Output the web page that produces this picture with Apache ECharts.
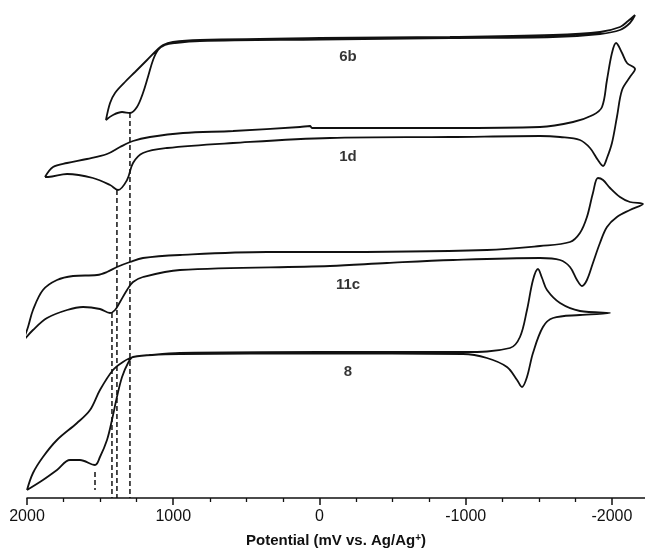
<!DOCTYPE html>
<html>
<head>
<meta charset="utf-8">
<title>Cyclic voltammograms</title>
<script src="https://cdn.jsdelivr.net/npm/echarts@6/dist/echarts.min.js"></script>
<style>
  html, body { margin: 0; padding: 0; background: #fff; }
  #chart { width: 645px; height: 550px; }
</style>
</head>
<body>
<div id="chart"></div>
<script>
// 循环伏安曲线：每条曲线为闭合回路 [电位 mV, 偏移电流 a.u.]

const curveNames = ['6b', '1d', '11c', '8'];

const cv6b = [
  [-2158, 48.3], [-2110, 47.7], [-2055, 47.1], [-1918, 46.6], [-1597, 46.3],
  [-892, 46.1], [-4, 46.0], [817, 45.8], [1002, 45.6], [1070, 45.3],
  [1111, 44.8], [1179, 43.8], [1261, 42.6], [1330, 41.6], [1398, 40.5],
  [1432, 39.5], [1460, 37.8], [1412, 38.3], [1350, 38.6], [1296, 38.5],
  [1248, 39.1], [1207, 40.5], [1173, 42.1], [1138, 43.8], [1104, 44.8],
  [1056, 45.3], [988, 45.5], [817, 45.7], [-4, 45.85], [-892, 46.0],
  [-1597, 46.1], [-1918, 46.4], [-2055, 46.8], [-2123, 47.5], [-2158, 48.3]
];

const cv1d = [
  [1877, 32.1], [1822, 33.1], [1726, 33.5], [1590, 33.9], [1453, 34.4],
  [1364, 35.1], [1275, 35.7], [1159, 36.1], [933, 36.5], [591, 36.7],
  [133, 37.1], [65, 37.2], [51, 37.0], [-4, 37.0], [-892, 37.0],
  [-1508, 37.1], [-1734, 37.6], [-1870, 38.3], [-1932, 39.1], [-1966, 41.8],
  [-2000, 44.5], [-2028, 45.5], [-2069, 44.5], [-2103, 43.5], [-2158, 42.9],
  [-2123, 42.1], [-2069, 40.8], [-2034, 38.1], [-2000, 35.5], [-1966, 34.0],
  [-1939, 33.2], [-1904, 33.8], [-1850, 35.0], [-1781, 35.8], [-1645, 36.1],
  [-1508, 36.2], [-892, 36.1], [-72, 36.0], [591, 35.5], [1043, 35.0],
  [1207, 34.5], [1275, 33.5], [1316, 31.8], [1378, 30.8], [1432, 31.3],
  [1549, 32.0], [1726, 32.4], [1856, 32.1], [1877, 32.1]
];

const cv11c = [
  [2027, 15.7], [1993, 17.1], [1959, 18.8], [1891, 20.8], [1795, 21.8],
  [1685, 22.2], [1521, 22.3], [1453, 22.6], [1385, 23.1], [1296, 23.6],
  [1207, 24.0], [954, 24.3], [359, 24.6], [-4, 24.6], [-1145, 24.8],
  [-1508, 25.2], [-1713, 25.6], [-1781, 26.5], [-1829, 28.1], [-1870, 30.5],
  [-1904, 32.0], [-1939, 31.8], [-1987, 31.0], [-2055, 30.1], [-2123, 29.6],
  [-2212, 29.4], [-2123, 28.8], [-2034, 28.1], [-1966, 27.1], [-1918, 25.5],
  [-1870, 23.5], [-1829, 21.8], [-1795, 21.2], [-1761, 21.8], [-1713, 23.1],
  [-1645, 23.8], [-1508, 24.0], [-913, 23.8], [-462, 23.5], [-72, 23.2],
  [954, 22.8], [1207, 22.1], [1275, 21.6], [1316, 20.8], [1364, 19.6],
  [1398, 18.8], [1432, 18.5], [1501, 18.9], [1617, 19.1], [1726, 18.8],
  [1863, 18.0], [1959, 16.8], [2027, 15.7]
];

const cv8 = [
  [2000, 0.8], [1959, 2.5], [1891, 4.1], [1795, 5.8], [1658, 7.5],
  [1569, 8.8], [1501, 10.8], [1412, 12.8], [1344, 13.6], [1275, 14.1],
  [1159, 14.3], [954, 14.5], [-4, 14.6], [-981, 14.6], [-1303, 15.0],
  [-1371, 16.1], [-1419, 18.8], [-1460, 21.8], [-1494, 22.9], [-1522, 22.0],
  [-1556, 20.8], [-1645, 19.5], [-1781, 18.7], [-1987, 18.5], [-1781, 18.3],
  [-1597, 18.0], [-1528, 17.1], [-1460, 14.5], [-1419, 12.1], [-1385, 11.1],
  [-1351, 11.8], [-1282, 13.1], [-1145, 14.0], [-981, 14.4], [-4, 14.45],
  [954, 14.4], [1275, 14.1], [1309, 13.5], [1350, 12.1], [1385, 10.1],
  [1419, 7.8], [1453, 5.8], [1501, 4.1], [1535, 3.3], [1638, 3.8],
  [1706, 3.8], [1795, 2.8], [1891, 1.8], [2000, 0.8]
];

// 各曲线标签位置 [mV, a.u.]
const labelPoints = [[-195, 44.1], [-195, 34.1], [-195, 21.3], [-195, 12.6]];

// 虚线：氧化峰电位及其起止高度
const peakPotentials = [1296, 1385, 1419, 1535];
const peakTops = [38.5, 30.8, 18.5, 2.6];
const peakBottoms = [0, 0, 0, 0.8];

// 坐标轴刻度
const majorTicks = [2000, 1000, 0, -1000, -2000];
const minorTicks = [1750, 1500, 1250, 750, 500, 250, -250, -500, -750,
  -1250, -1500, -1750];

const chart = echarts.init(document.getElementById('chart'), null, { renderer: 'canvas' });

const curveStyle = {
  type: 'line',
  xAxisIndex: 0,
  showSymbol: false,
  symbol: 'none',
  smooth: 0.35,
  lineStyle: { color: '#111', width: 1.8 },
  silent: true
};

const series = [cv6b, cv1d, cv11c, cv8].map((d, i) => ({
  ...curveStyle,
  name: curveNames[i],
  data: d
}));

// 虚线
peakPotentials.forEach((x, i) => {
  series.push({
    type: 'line',
    xAxisIndex: 0,
    symbol: 'none',
    silent: true,
    lineStyle: { color: '#111', width: 1.5, type: [5, 3] },
    data: [[x, peakTops[i]], [x, peakBottoms[i]]]
  });
});

// 曲线名称
series.push({
  type: 'scatter',
  xAxisIndex: 0,
  symbolSize: 0,
  silent: true,
  data: labelPoints.map((p, i) => ({ value: p, name: curveNames[i] })),
  label: {
    show: true,
    position: 'inside',
    formatter: p => p.name,
    color: '#000',
    fontFamily: 'Liberation Sans, Arial, sans-serif',
    fontWeight: 'bold',
    fontSize: 15
  }
});

const option = {
  animation: false,
  grid: { left: 27, right: 0, top: 0, bottom: 52, outerBoundsMode: 'none', containLabel: false },
  xAxis: [
    {
      type: 'value',
      inverse: true,
      min: -2226,
      max: 2000,
      splitLine: { show: false },
      axisLine: { lineStyle: { color: '#111', width: 1.5 } },
      axisTick: { customValues: majorTicks, length: 7, lineStyle: { color: '#111', width: 1.5 } },
      axisLabel: {
        customValues: majorTicks,
        formatter: v => String(v),
        color: '#111',
        fontFamily: 'Liberation Sans, Arial, sans-serif',
        fontSize: 16,
        margin: 11
      },
      name: 'Potential (mV vs. Ag/Ag{sup|+})',
      nameLocation: 'middle',
      nameGap: 35,
      nameTextStyle: {
        color: '#111',
        fontFamily: 'Liberation Sans, Arial, sans-serif',
        fontWeight: 'bold',
        fontSize: 15,
        rich: {
          sup: {
            fontSize: 10,
            fontWeight: 'bold',
            fontFamily: 'Liberation Sans, Arial, sans-serif',
            color: '#111',
            verticalAlign: 'top',
            padding: [0, 0, 6, 0]
          }
        }
      }
    },
    {
      // 次刻度
      type: 'value',
      inverse: true,
      min: -2226,
      max: 2000,
      position: 'bottom',
      splitLine: { show: false },
      axisLine: { show: false },
      axisLabel: { show: false },
      axisTick: { customValues: minorTicks, length: 4, lineStyle: { color: '#111', width: 1.3 } }
    }
  ],
  yAxis: {
    type: 'value',
    show: false,
    min: 0,
    max: 49.8
  },
  series: series
};

chart.setOption(option);
</script>
</body>
</html>
